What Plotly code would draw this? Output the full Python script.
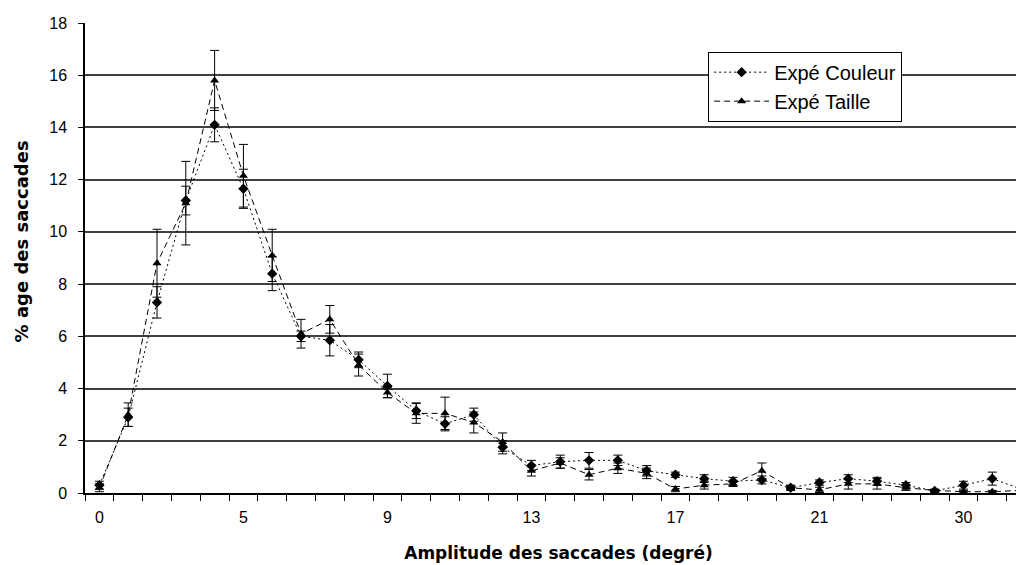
import plotly.graph_objects as go

# Category positions (bins of saccade amplitude) and the labels shown on the axis
categories = list(range(33))
tick_positions = [0, 5, 10, 15, 20, 25, 30]
tick_labels = ["0", "5", "9", "13", "17", "21", "30"]

couleur = [0.3, 2.9, 7.3, 11.2, 14.1, 11.65, 8.4, 6.0, 5.85, 5.1, 4.1, 3.15, 2.65, 3.0,
           1.75, 1.05, 1.2, 1.25, 1.25, 0.85, 0.7, 0.55, 0.45, 0.5, 0.2, 0.4, 0.55, 0.45,
           0.3, 0.08, 0.3, 0.55, 0.15]
couleur_err = [0.15, 0.35, 0.6, 0.55, 0.65, 0.75, 0.65, 0.2, 0.6, 0.3, 0.45, 0.3, 0.27, 0.25,
               0.25, 0.2, 0.25, 0.3, 0.2, 0.2, 0.1, 0.15, 0.15, 0.15, 0.08, 0.1, 0.15, 0.15,
               0.1, 0.05, 0.15, 0.25, 0.1]
taille = [0.2, 3.0, 8.8, 11.1, 15.8, 12.15, 9.1, 6.1, 6.65, 4.9, 3.85, 3.05, 3.05, 2.7,
          1.95, 0.85, 1.15, 0.7, 0.95, 0.75, 0.15, 0.3, 0.35, 0.85, 0.2, 0.12, 0.35, 0.35,
          0.2, 0.1, 0.05, 0.05, 0.1]
taille_err = [0.15, 0.45, 1.3, 1.6, 1.15, 1.2, 1.0, 0.55, 0.53, 0.42, 0.2, 0.38, 0.62, 0.4,
              0.35, 0.2, 0.2, 0.2, 0.2, 0.2, 0.1, 0.15, 0.1, 0.3, 0.1, 0.1, 0.2, 0.2,
              0.1, 0.05, 0.05, 0.05, 0.05]

FONT = "Liberation Sans, Arial, sans-serif"
TITLE_FONT = "DejaVu Sans, Liberation Sans, sans-serif"

fig = go.Figure()
fig.add_trace(go.Scatter(
    x=categories, y=couleur, name="Expé Couleur", mode="lines+markers",
    line=dict(color="black", width=1, dash="2px,3px"),
    marker=dict(symbol="diamond", size=8, color="black"),
    error_y=dict(type="data", array=couleur_err, visible=True, color="black",
                 thickness=1, width=4.5),
))
fig.add_trace(go.Scatter(
    x=categories, y=taille, name="Expé Taille", mode="lines+markers",
    line=dict(color="black", width=1, dash="6px,4px"),
    marker=dict(symbol="triangle-up", size=8, color="black"),
    error_y=dict(type="data", array=taille_err, visible=True, color="black",
                 thickness=1, width=4.5),
))

fig.update_layout(
    width=1024, height=565,
    margin=dict(l=77, r=0, t=15, b=80),
    paper_bgcolor="white", plot_bgcolor="white",
    font=dict(family=FONT, size=16, color="black"),
    showlegend=True,
    legend=dict(x=0.658, y=0.939, xanchor="left", yanchor="top",
                bgcolor="white", bordercolor="black", borderwidth=1,
                font=dict(family=FONT, size=20, color="black"),
                tracegroupgap=0, itemwidth=55),
    xaxis=dict(
        range=[-0.5, 32.38], tickmode="array", tickvals=tick_positions,
        ticktext=tick_labels, ticks="", showgrid=False, zeroline=False,
        showline=True, linecolor="black", linewidth=1.5, automargin=False,
        minor=dict(ticks="outside", tick0=-0.5, dtick=1, ticklen=6,
                   tickcolor="black", tickwidth=1, showgrid=False),
        tickfont=dict(size=16), ticklabelstandoff=9,
        title=dict(text="<b>Amplitude des saccades (degré)</b>",
                   font=dict(family=TITLE_FONT, size=17), standoff=22),
    ),
    yaxis=dict(
        range=[0, 18], dtick=2, ticks="outside", ticklen=5, tickcolor="black",
        showgrid=True, gridcolor="#404040", gridwidth=1.5, zeroline=False,
        showline=True, linecolor="black", linewidth=1.5, automargin=False,
        tickfont=dict(size=16), ticklabelstandoff=8,
    ),
    annotations=[dict(
        text="<b>% age des saccades</b>", textangle=-90,
        xref="paper", yref="paper", x=-0.0675, y=0.5355,
        xanchor="center", yanchor="middle", showarrow=False,
        font=dict(family=TITLE_FONT, size=18, color="black"),
    )],
)

fig.write_html("out.html")
